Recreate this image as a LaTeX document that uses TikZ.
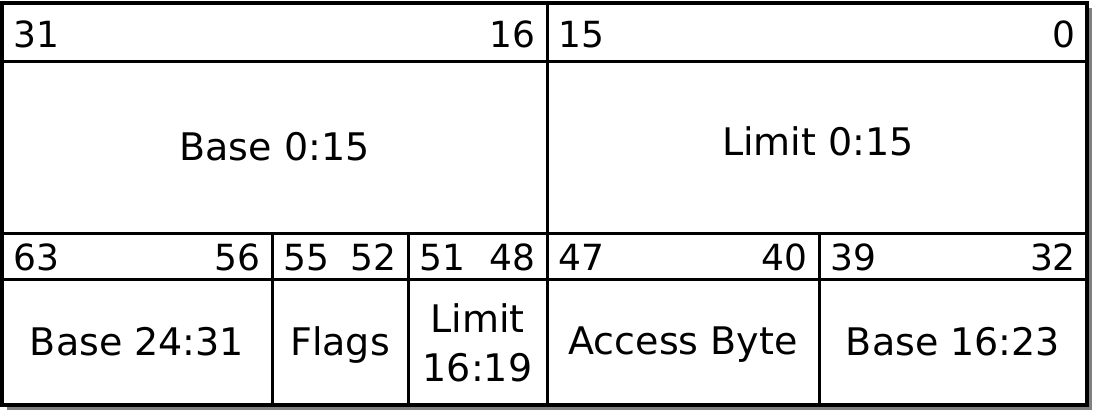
\documentclass[tikz,border=0pt]{standalone}
\usepackage{fontspec}
\setmainfont{DejaVu Sans}
\usepackage{tikz}

\begin{document}
\begin{tikzpicture}[x=1pt,y=1pt,yscale=-1,xscale=1,
  bitnum/.style={inner sep=0pt,font=\fontsize{36}{43}\selectfont},
  field/.style={inner sep=0pt,font=\fontsize{38}{49}\selectfont,align=center},
  rule/.style={line width=3pt},
  frame/.style={line width=4pt}]
\useasboundingbox (0,0) rectangle (1098,416);

%Shape: Shadow
\fill[black!50] (7,8) rectangle (1092,410);
%Shape: Rectangle
\fill[white] (2,3) rectangle (1087,405);

%Straight Lines
\draw[rule] (2,61) -- (1087,61);
%Straight Lines
\draw[rule] (2,233) -- (1087,233);
%Straight Lines
\draw[rule] (2,279) -- (1087,279);
%Straight Lines
\draw[rule] (547,3) -- (547,405);
%Straight Lines
\draw[rule] (272,233) -- (272,405);
%Straight Lines
\draw[rule] (408,233) -- (408,405);
%Straight Lines
\draw[rule] (819,233) -- (819,405);
%Shape: Rectangle
\draw[frame] (2,3) rectangle (1087,405);

% Text Node
\node[bitnum,anchor=base west] (b31) at (13,47) {31};
% Text Node
\node[bitnum,anchor=base east] (b16) at (536,47) {16};
% Text Node
\node[bitnum,anchor=base west] (b15) at (558,47) {15};
% Text Node
\node[bitnum,anchor=base east] (b0) at (1076,47) {0};
% Text Node
\node[bitnum,anchor=base west] (b63) at (13,270) {63};
% Text Node
\node[bitnum,anchor=base east] (b56) at (261,270) {56};
% Text Node
\node[bitnum,anchor=base west] (b55) at (283,270) {55};
% Text Node
\node[bitnum,anchor=base east] (b52) at (397,270) {52};
% Text Node
\node[bitnum,anchor=base west] (b51) at (419,270) {51};
% Text Node
\node[bitnum,anchor=base east] (b48) at (536,270) {48};
% Text Node
\node[bitnum,anchor=base west] (b47) at (558,270) {47};
% Text Node
\node[bitnum,anchor=base east] (b40) at (808,270) {40};
% Text Node
\node[bitnum,anchor=base west] (b39) at (830,270) {39};
% Text Node
\node[bitnum,anchor=base east] (b32) at (1076,270) {32};

% Text Node
\node[field,anchor=base] (baselo) at (274.5,160) {Base 0:15};
% Text Node
\node[field,anchor=base] (limitlo) at (818,155) {Limit 0:15};
% Text Node
\node[field,anchor=base] (basehi) at (137,355) {Base 24:31};
% Text Node
\node[field,anchor=base] (flags) at (340,355) {Flags};
% Text Node
\node[field,anchor=center] (limithi) at (477.5,343) {Limit\\16:19};
% Text Node
\node[field,anchor=base] (access) at (683,354) {Access Byte};
% Text Node
\node[field,anchor=base] (basemid) at (953,355) {Base 16:23};

\end{tikzpicture}
\end{document}
